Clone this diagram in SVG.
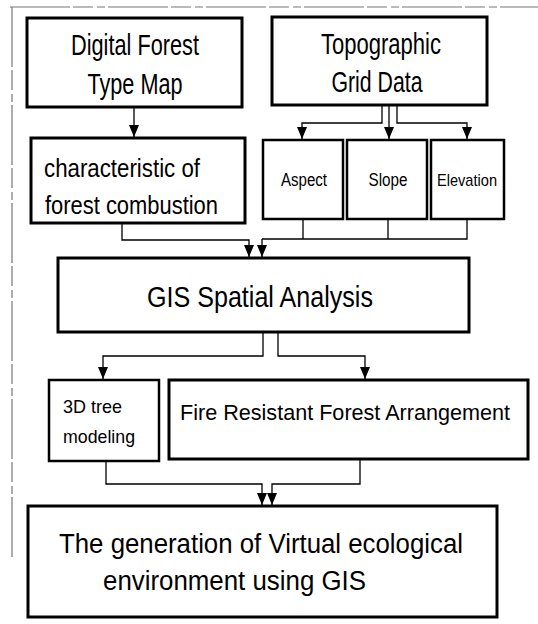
<svg xmlns="http://www.w3.org/2000/svg" width="538" height="624" viewBox="0 0 538 624">
<style>
.box{fill:#fff;stroke:#000;stroke-width:3}
.sbox{fill:#fff;stroke:#000;stroke-width:2.5}
.t{font-family:"Liberation Sans",Arial,sans-serif;fill:#000}
.c{fill:none;stroke:#000;stroke-width:1.3}
.frame{fill:none;stroke:#777;stroke-width:1.2;stroke-dasharray:60 3 20 4 8 3}
</style>
<defs>
<marker id="ah" markerWidth="12" markerHeight="10" refX="12" refY="5" orient="auto" markerUnits="userSpaceOnUse" viewBox="0 0 12 10">
<path d="M0,0 L12,5 L0,10 Z" fill="#000"/>
</marker>
</defs>
<rect width="538" height="624" fill="#fff"/>
<g id="frame">
<path class="frame" d="M10,7 H538"/>
<path class="frame" d="M12,7 V560"/>
</g>
<g id="connectors">
<path class="c" d="M134,107 V137" marker-end="url(#ah)"/>
<path class="c" d="M382,105 V123 H302 V139" marker-end="url(#ah)"/>
<path class="c" d="M389,105 V139" marker-end="url(#ah)"/>
<path class="c" d="M397,105 V123 H467 V139" marker-end="url(#ah)"/>
<path class="c" d="M122,223 V240 H249 V257" marker-end="url(#ah)"/>
<path class="c" d="M303,219 V239 M388,219 V239 M467,219 V239 H262"/>
<path class="c" d="M262,239 V257" marker-end="url(#ah)"/>
<path class="c" d="M263,332 V356 H103 V379" marker-end="url(#ah)"/>
<path class="c" d="M278,332 V356 H365 V379" marker-end="url(#ah)"/>
<path class="c" d="M106,461 V484 H262 V505" marker-end="url(#ah)"/>
<path class="c" d="M360,459 V484 H272 V505" marker-end="url(#ah)"/>
</g>
<g id="digital-forest">
<rect class="box" x="27" y="18" width="215" height="89"/>
<text class="t" x="135" y="55" font-size="29" text-anchor="middle" textLength="128" lengthAdjust="spacingAndGlyphs">Digital Forest</text>
<text class="t" x="135" y="94" font-size="29" text-anchor="middle" textLength="95" lengthAdjust="spacingAndGlyphs">Type Map</text>
</g>
<g id="topographic">
<rect class="box" x="272" y="17" width="215" height="88"/>
<text class="t" x="381" y="54" font-size="29" text-anchor="middle" textLength="120" lengthAdjust="spacingAndGlyphs">Topographic</text>
<text class="t" x="377" y="92" font-size="29" text-anchor="middle" textLength="91" lengthAdjust="spacingAndGlyphs">Grid Data</text>
</g>
<g id="characteristic">
<rect class="box" x="31" y="138" width="214" height="85"/>
<text class="t" x="44" y="177" font-size="25" textLength="156" lengthAdjust="spacingAndGlyphs">characteristic of</text>
<text class="t" x="45" y="214" font-size="25" textLength="173" lengthAdjust="spacingAndGlyphs">forest combustion</text>
</g>
<g id="aspect">
<rect class="sbox" x="263" y="140" width="80" height="79"/>
<text class="t" x="304" y="186" font-size="18" text-anchor="middle" textLength="46" lengthAdjust="spacingAndGlyphs">Aspect</text>
</g>
<g id="slope">
<rect class="sbox" x="347" y="140" width="80" height="79"/>
<text class="t" x="388" y="186" font-size="18" text-anchor="middle" textLength="39" lengthAdjust="spacingAndGlyphs">Slope</text>
</g>
<g id="elevation">
<rect class="sbox" x="431" y="140" width="73" height="79"/>
<text class="t" x="467" y="186" font-size="17" text-anchor="middle" textLength="60" lengthAdjust="spacingAndGlyphs">Elevation</text>
</g>
<g id="gis">
<rect class="box" x="58" y="258" width="411" height="74"/>
<text class="t" x="260" y="307" font-size="29" text-anchor="middle" textLength="226" lengthAdjust="spacingAndGlyphs">GIS Spatial Analysis</text>
</g>
<g id="tree">
<rect class="sbox" x="49" y="380" width="110" height="81"/>
<text class="t" x="63" y="413" font-size="19" textLength="59" lengthAdjust="spacingAndGlyphs">3D tree</text>
<text class="t" x="63" y="443" font-size="19" textLength="72" lengthAdjust="spacingAndGlyphs">modeling</text>
</g>
<g id="fire">
<rect class="box" x="169" y="380" width="359" height="79"/>
<text class="t" x="180" y="420" font-size="22" textLength="330" lengthAdjust="spacingAndGlyphs">Fire Resistant Forest Arrangement</text>
</g>
<g id="generation">
<rect class="box" x="28" y="506" width="469" height="111"/>
<text class="t" x="59" y="553" font-size="27" textLength="404" lengthAdjust="spacingAndGlyphs">The generation of Virtual ecological</text>
<text class="t" x="103" y="590" font-size="27" textLength="263" lengthAdjust="spacingAndGlyphs">environment using GIS</text>
</g>
</svg>
